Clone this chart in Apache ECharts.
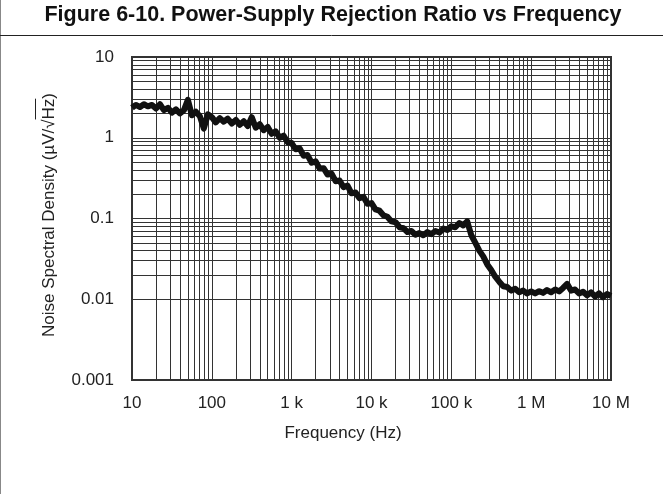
<!DOCTYPE html>
<html>
<head>
<meta charset="utf-8">
<script src="https://cdn.jsdelivr.net/npm/echarts@6/dist/echarts.min.js"></script>
<style>
html,body{margin:0;padding:0;background:#fff;}
#c{width:663px;height:494px;}
</style>
</head>
<body>
<div id="c"></div>
<script>
// ---- data ----
const freqHz = [
  10,11.2,12.6,14.1,15.8,17.8,20,22.4,25.1,28.2,31.6,35.5,39.8,44.7,50.1,56.2,63.1,70.8,79.4,89.1,
  100,112,126,141,158,178,200,224,251,282,316,355,398,447,501,562,631,708,794,891,
  1000,1120,1260,1410,1580,1780,2000,2240,2510,2820,3160,3550,3980,4470,5010,5620,6310,7080,7940,8910,
  10000,11200,12600,14100,15800,17800,20000,22400,25100,28200,31600,35500,39800,44700,50100,56200,63100,70800,79400,89100,
  100000,112000,126000,141000,158000,178000,200000,224000,251000,282000,316000,355000,398000,447000,501000,562000,631000,708000,794000,891000,
  1000000,1120000,1260000,1410000,1580000,1780000,2000000,2240000,2510000,2820000,3160000,3550000,3980000,4470000,5010000,5620000,6310000,7080000,7940000,8910000,
  10000000
];
const noiseDensity = [
  2.35,2.55,2.4,2.6,2.45,2.55,2.3,2.6,2.2,2.35,2.05,2.25,2.0,2.2,2.95,1.9,2.1,1.85,1.3,1.95,
  1.8,1.55,1.75,1.58,1.72,1.5,1.66,1.45,1.6,1.4,1.8,1.33,1.47,1.24,1.36,1.12,1.2,1.0,1.06,0.88,
  0.86,0.72,0.74,0.6,0.61,0.49,0.51,0.415,0.42,0.35,0.36,0.29,0.295,0.245,0.255,0.205,0.21,0.178,0.185,0.152,
  0.155,0.13,0.125,0.11,0.105,0.092,0.09,0.078,0.076,0.068,0.07,0.063,0.066,0.062,0.068,0.064,0.07,0.067,0.075,0.072,
  0.08,0.078,0.088,0.082,0.092,0.062,0.05,0.04,0.034,0.027,0.023,0.019,0.0165,0.0145,0.0142,0.0128,0.0135,0.0122,0.0128,0.0118,
  0.0125,0.0118,0.0126,0.012,0.013,0.0122,0.0132,0.0125,0.0138,0.0155,0.0128,0.0132,0.0118,0.0124,0.0112,0.0122,0.0108,0.0118,0.0106,0.0116,
  0.011
];
const xTickLabels = ['10','100','1 k','10 k','100 k','1 M','10 M'];
const yTickLabels = ['0.001','0.01','0.1','1','10'];
const gridMantissas = [2,3,4,5,6,7,8,9];
const xDecades = [10,100,1000,10000,100000,1000000];
const yDecades = [0.001,0.01,0.1,1];
const titleText = 'Figure 6-10. Power-Supply Rejection Ratio vs Frequency';
const xName = 'Frequency (Hz)';
const yName = 'Noise Spectral Density (\u00b5V/\u221aHz)';

// ---- layout / style ----
const FONT = '"Liberation Sans", Arial, Helvetica, sans-serif';
const TEXT_COLOR = '#222';
const GRID_COLOR = '#333';

const minorLines = [];
xDecades.forEach(d => gridMantissas.forEach(m => minorLines.push({xAxis: +(m * d).toPrecision(3)})));
yDecades.forEach(d => gridMantissas.forEach(m => minorLines.push({yAxis: +(m * d).toPrecision(3)})));

// measure the y-axis name to place the square-root vinculum over "Hz"
const mctx = document.createElement('canvas').getContext('2d');
mctx.font = '17px ' + FONT;
const yNameW = mctx.measureText(yName).width;
const wClose = mctx.measureText(')').width;
const wHz = mctx.measureText('Hz').width;
const yNameCX = 49, yNameCY = 215;
const yNameTop = yNameCY - yNameW / 2;

const chart = echarts.init(document.getElementById('c'), null, {renderer: 'canvas'});
chart.setOption({
  animation: false,
  backgroundColor: '#fff',
  grid: {left: 132, right: 52, top: 57, bottom: 114, show: true, borderColor: GRID_COLOR, borderWidth: 2, backgroundColor: 'transparent'},
  xAxis: {
    type: 'log', logBase: 10, min: 10, max: 10000000,
    axisLine: {show: false}, axisTick: {show: false},
    splitLine: {show: true, lineStyle: {color: GRID_COLOR, width: 1}},
    axisLabel: {
      fontSize: 17, fontFamily: FONT, color: TEXT_COLOR, margin: 15,
      showMinLabel: true, showMaxLabel: true,
      formatter: v => xTickLabels[Math.round(Math.log10(v)) - 1]
    }
  },
  yAxis: {
    type: 'log', logBase: 10, min: 0.001, max: 10,
    axisLine: {show: false}, axisTick: {show: false},
    splitLine: {show: true, lineStyle: {color: GRID_COLOR, width: 1}},
    axisLabel: {
      fontSize: 17, fontFamily: FONT, color: TEXT_COLOR, margin: 18,
      showMinLabel: true, showMaxLabel: true,
      formatter: v => yTickLabels[Math.round(Math.log10(v)) + 3]
    }
  },
  series: [
    {
      type: 'line', silent: true, z: 3,
      data: freqHz.map((f, i) => [f, noiseDensity[i]]),
      symbol: 'none', showSymbol: false,
      lineStyle: {color: '#111', width: 6, join: 'round'}
    },
    {
      type: 'line', silent: true, data: [],
      markLine: {
        silent: true, z: 1, animation: false,
        symbol: ['none', 'none'],
        label: {show: false},
        emphasis: {disabled: true},
        lineStyle: {color: GRID_COLOR, width: 1, type: 'solid'},
        data: minorLines
      }
    }
  ],
  graphic: [
    {type: 'line', silent: true, shape: {x1: 0.5, y1: 0, x2: 0.5, y2: 494}, style: {stroke: '#888', lineWidth: 1}},
    {type: 'line', silent: true, shape: {x1: 0, y1: 35.5, x2: 663, y2: 35.5}, style: {stroke: '#222', lineWidth: 1}},
    {type: 'text', silent: true, x: 333, y: 15,
      style: {text: titleText, font: 'bold 21.5px ' + FONT, fill: '#111', align: 'center', verticalAlign: 'middle'}},
    {type: 'text', silent: true, x: 343, y: 433,
      style: {text: xName, font: '17px ' + FONT, fill: TEXT_COLOR, align: 'center', verticalAlign: 'middle'}},
    {type: 'text', silent: true, x: yNameCX, y: yNameCY, rotation: Math.PI / 2,
      style: {text: yName, font: '17px ' + FONT, fill: TEXT_COLOR, align: 'center', verticalAlign: 'middle'}},
    {type: 'line', silent: true,
      shape: {x1: 35.5, y1: yNameTop + wClose, x2: 35.5, y2: yNameTop + wClose + wHz},
      style: {stroke: TEXT_COLOR, lineWidth: 1}}
  ]
});
</script>
</body>
</html>
